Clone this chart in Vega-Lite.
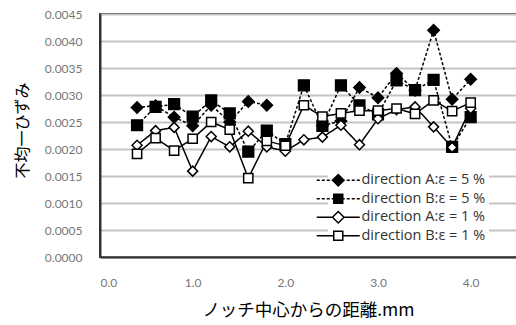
{
  "$schema": "https://vega.github.io/schema/vega-lite/v6.json",
  "width": 417,
  "height": 243,
  "autosize": {"type": "none"},
  "padding": {"left": 100, "top": 14, "right": 0, "bottom": 68},
  "background": "white",
  "config": {
    "view": {"stroke": "#333333", "strokeWidth": 2},
    "font": "Lato"
  },
  "datasets": {
    "pts": [
      {"x": 0.4, "s": "direction A:ε = 5 %", "v": 0.00277},
      {"x": 0.6, "s": "direction A:ε = 5 %", "v": 0.00280},
      {"x": 0.8, "s": "direction A:ε = 5 %", "v": 0.00259},
      {"x": 1.0, "s": "direction A:ε = 5 %", "v": 0.00243},
      {"x": 1.2, "s": "direction A:ε = 5 %", "v": 0.00281},
      {"x": 1.4, "s": "direction A:ε = 5 %", "v": 0.00250},
      {"x": 1.6, "s": "direction A:ε = 5 %", "v": 0.00288},
      {"x": 1.8, "s": "direction A:ε = 5 %", "v": 0.00281},
      {"x": 2.0, "s": "direction A:ε = 5 %", "v": null},
      {"x": 2.2, "s": "direction A:ε = 5 %", "v": null},
      {"x": 2.4, "s": "direction A:ε = 5 %", "v": 0.00243},
      {"x": 2.6, "s": "direction A:ε = 5 %", "v": 0.00252},
      {"x": 2.8, "s": "direction A:ε = 5 %", "v": 0.00314},
      {"x": 3.0, "s": "direction A:ε = 5 %", "v": 0.00295},
      {"x": 3.2, "s": "direction A:ε = 5 %", "v": 0.00340},
      {"x": 3.4, "s": "direction A:ε = 5 %", "v": 0.00309},
      {"x": 3.6, "s": "direction A:ε = 5 %", "v": 0.00420},
      {"x": 3.8, "s": "direction A:ε = 5 %", "v": 0.00292},
      {"x": 4.0, "s": "direction A:ε = 5 %", "v": 0.00329},

      {"x": 0.4, "s": "direction B:ε = 5 %", "v": 0.00244},
      {"x": 0.6, "s": "direction B:ε = 5 %", "v": 0.00278},
      {"x": 0.8, "s": "direction B:ε = 5 %", "v": 0.00283},
      {"x": 1.0, "s": "direction B:ε = 5 %", "v": 0.00260},
      {"x": 1.2, "s": "direction B:ε = 5 %", "v": 0.00290},
      {"x": 1.4, "s": "direction B:ε = 5 %", "v": 0.00266},
      {"x": 1.6, "s": "direction B:ε = 5 %", "v": 0.00195},
      {"x": 1.8, "s": "direction B:ε = 5 %", "v": 0.00234},
      {"x": 2.0, "s": "direction B:ε = 5 %", "v": 0.00209},
      {"x": 2.2, "s": "direction B:ε = 5 %", "v": 0.00318},
      {"x": 2.4, "s": "direction B:ε = 5 %", "v": 0.00243},
      {"x": 2.6, "s": "direction B:ε = 5 %", "v": 0.00318},
      {"x": 2.8, "s": "direction B:ε = 5 %", "v": 0.00281},
      {"x": 3.0, "s": "direction B:ε = 5 %", "v": 0.00264},
      {"x": 3.2, "s": "direction B:ε = 5 %", "v": 0.00327},
      {"x": 3.4, "s": "direction B:ε = 5 %", "v": 0.00309},
      {"x": 3.6, "s": "direction B:ε = 5 %", "v": 0.00328},
      {"x": 3.8, "s": "direction B:ε = 5 %", "v": 0.00204},
      {"x": 4.0, "s": "direction B:ε = 5 %", "v": 0.00259},

      {"x": 0.4, "s": "direction A:ε = 1 %", "v": 0.00207},
      {"x": 0.6, "s": "direction A:ε = 1 %", "v": 0.00234},
      {"x": 0.8, "s": "direction A:ε = 1 %", "v": 0.00240},
      {"x": 1.0, "s": "direction A:ε = 1 %", "v": 0.00159},
      {"x": 1.2, "s": "direction A:ε = 1 %", "v": 0.00223},
      {"x": 1.4, "s": "direction A:ε = 1 %", "v": 0.00204},
      {"x": 1.6, "s": "direction A:ε = 1 %", "v": 0.00233},
      {"x": 1.8, "s": "direction A:ε = 1 %", "v": 0.00204},
      {"x": 2.0, "s": "direction A:ε = 1 %", "v": 0.00196},
      {"x": 2.2, "s": "direction A:ε = 1 %", "v": 0.00217},
      {"x": 2.4, "s": "direction A:ε = 1 %", "v": 0.00222},
      {"x": 2.6, "s": "direction A:ε = 1 %", "v": 0.00244},
      {"x": 2.8, "s": "direction A:ε = 1 %", "v": 0.00208},
      {"x": 3.0, "s": "direction A:ε = 1 %", "v": 0.00256},
      {"x": 3.2, "s": "direction A:ε = 1 %", "v": 0.00273},
      {"x": 3.4, "s": "direction A:ε = 1 %", "v": 0.00278},
      {"x": 3.6, "s": "direction A:ε = 1 %", "v": 0.00241},
      {"x": 3.8, "s": "direction A:ε = 1 %", "v": 0.00203},
      {"x": 4.0, "s": "direction A:ε = 1 %", "v": 0.00275},

      {"x": 0.4, "s": "direction B:ε = 1 %", "v": 0.00191},
      {"x": 0.6, "s": "direction B:ε = 1 %", "v": 0.00220},
      {"x": 0.8, "s": "direction B:ε = 1 %", "v": 0.00197},
      {"x": 1.0, "s": "direction B:ε = 1 %", "v": 0.00219},
      {"x": 1.2, "s": "direction B:ε = 1 %", "v": 0.00250},
      {"x": 1.4, "s": "direction B:ε = 1 %", "v": 0.00236},
      {"x": 1.6, "s": "direction B:ε = 1 %", "v": 0.00146},
      {"x": 1.8, "s": "direction B:ε = 1 %", "v": 0.00215},
      {"x": 2.0, "s": "direction B:ε = 1 %", "v": 0.00206},
      {"x": 2.2, "s": "direction B:ε = 1 %", "v": 0.00281},
      {"x": 2.4, "s": "direction B:ε = 1 %", "v": 0.00260},
      {"x": 2.6, "s": "direction B:ε = 1 %", "v": 0.00266},
      {"x": 2.8, "s": "direction B:ε = 1 %", "v": 0.00271},
      {"x": 3.0, "s": "direction B:ε = 1 %", "v": 0.00271},
      {"x": 3.2, "s": "direction B:ε = 1 %", "v": 0.00275},
      {"x": 3.4, "s": "direction B:ε = 1 %", "v": 0.00265},
      {"x": 3.6, "s": "direction B:ε = 1 %", "v": 0.00290},
      {"x": 3.8, "s": "direction B:ε = 1 %", "v": 0.00270},
      {"x": 4.0, "s": "direction B:ε = 1 %", "v": 0.00286}
    ]
  },
  "data": {"name": "pts"},
  "encoding": {
    "x": {
      "field": "x", "type": "quantitative",
      "scale": {"domain": [0, 4.5], "nice": false, "zero": false},
      "axis": {
        "values": [0, 1, 2, 3, 4], "format": ".1f", "grid": false,
        "ticks": false, "labelPadding": 20, "labelBaseline": "top",
        "labelFont": "Lato", "labelFontSize": 12, "labelColor": "#777777",
        "domainColor": "#333333", "domainWidth": 2,
        "title": "ノッチ中心からの距離.mm",
        "titleFont": "Noto Sans CJK JP", "titleFontSize": 17.5, "titleFontWeight": "normal",
        "titleColor": "#000000", "titleX": 208, "titleY": 53,
        "titleAlign": "center", "titleBaseline": "middle"
      }
    },
    "y": {
      "field": "v", "type": "quantitative",
      "scale": {"domain": [0, 0.0045], "nice": false},
      "axis": {
        "values": [0, 0.0005, 0.001, 0.0015, 0.002, 0.0025, 0.003, 0.0035, 0.004, 0.0045],
        "format": ".4f", "ticks": false, "labelPadding": 18,
        "labelFont": "Lato", "labelFontSize": 12, "labelColor": "#777777",
        "grid": true, "gridColor": "#c4c4c4", "gridWidth": 2,
        "domainColor": "#333333", "domainWidth": 2,
        "title": "不均一ひずみ",
        "titleFont": "Noto Sans CJK JP", "titleFontSize": 16, "titleFontWeight": "normal",
        "titleColor": "#000000", "titleX": -78, "titleY": 116, "titleAngle": 270,
        "titleAlign": "center", "titleBaseline": "middle"
      }
    }
  },
  "layer": [
    {
      "mark": {"type": "line", "color": "black", "strokeWidth": 1.5, "invalid": "break-paths-show-domains"},
      "encoding": {
        "detail": {"field": "s"},
        "strokeDash": {
          "field": "s", "type": "nominal",
          "scale": {
            "domain": ["direction A:ε = 5 %", "direction B:ε = 5 %", "direction A:ε = 1 %", "direction B:ε = 1 %"],
            "range": [[3, 2], [3, 2], [1, 0], [1, 0]]
          },
          "legend": null
        }
      }
    },
    {
      "mark": {"type": "point", "filled": true, "stroke": "black", "strokeWidth": 1.5, "opacity": 1},
      "encoding": {
        "shape": {
          "field": "s", "type": "nominal",
          "scale": {
            "domain": ["direction A:ε = 5 %", "direction B:ε = 5 %", "direction A:ε = 1 %", "direction B:ε = 1 %"],
            "range": ["diamond", "square", "diamond", "square"]
          },
          "legend": null
        },
        "fill": {
          "field": "s", "type": "nominal",
          "scale": {
            "domain": ["direction A:ε = 5 %", "direction B:ε = 5 %", "direction A:ε = 1 %", "direction B:ε = 1 %"],
            "range": ["black", "black", "white", "white"]
          },
          "legend": null
        },
        "size": {
          "field": "s", "type": "nominal",
          "scale": {
            "domain": ["direction A:ε = 5 %", "direction B:ε = 5 %", "direction A:ε = 1 %", "direction B:ε = 1 %"],
            "range": [130, 85, 130, 95]
          },
          "legend": null
        }
      }
    },
    {
      "mark": {"type": "point", "filled": true, "stroke": "black", "strokeWidth": 1.5, "opacity": 0},
      "encoding": {
        "shape": {
          "field": "s", "type": "nominal",
          "scale": {
            "domain": ["direction A:ε = 5 %", "direction B:ε = 5 %", "direction A:ε = 1 %", "direction B:ε = 1 %"],
            "range": [
              "M-4.3,0H-3.7M-3.3,0H-2.7M-2.3,0H-1.7M-1.3,0H-1.1M1.1,0H1.3M1.7,0H2.3M2.7,0H3.3M3.7,0H4.3M0,-1.15L1.15,0L0,1.15L-1.15,0Z",
              "M-4.3,0H-3.7M-3.3,0H-2.7M-2.3,0H-1.7M-1.3,0H-0.9M0.9,0H1.3M1.7,0H2.3M2.7,0H3.3M3.7,0H4.3M-0.9,-0.9H0.9V0.9H-0.9Z",
              "M-4.3,0H-1.1M1.1,0H4.3M0,-1.15L1.15,0L0,1.15L-1.15,0Z",
              "M-4.3,0H-0.9M0.9,0H4.3M-0.9,-0.9H0.9V0.9H-0.9Z"
            ]
          },
          "legend": {
            "title": null, "orient": "none", "legendX": 228, "legendY": 156,
            "symbolSize": 100, "symbolStrokeWidth": 1.5, "symbolStrokeColor": "black",
            "symbolOpacity": 1, "labelOffset": 16,
            "labelFont": "Open Sans", "labelFontSize": 14.5, "labelColor": "#333333",
            "rowPadding": 1.5, "fillColor": "white", "padding": 3,
            "encode": {"symbols": {"update": {"stroke": {"value": "black"}, "strokeWidth": {"value": 1.5}, "opacity": {"value": 1}}}}
          }
        },
        "fill": {
          "field": "s", "type": "nominal",
          "scale": {
            "domain": ["direction A:ε = 5 %", "direction B:ε = 5 %", "direction A:ε = 1 %", "direction B:ε = 1 %"],
            "range": ["black", "black", "white", "white"]
          },
          "legend": {
            "title": null, "orient": "none", "legendX": 228, "legendY": 156,
            "symbolSize": 100, "symbolStrokeWidth": 1.5, "symbolStrokeColor": "black",
            "symbolOpacity": 1, "labelOffset": 16,
            "labelFont": "Open Sans", "labelFontSize": 14.5, "labelColor": "#333333",
            "rowPadding": 1.5, "fillColor": "white", "padding": 3,
            "encode": {"symbols": {"update": {"stroke": {"value": "black"}, "strokeWidth": {"value": 1.5}, "opacity": {"value": 1}}}}
          }
        }
      }
    }
  ],
  "resolve": {"scale": {"shape": "independent", "fill": "independent", "size": "independent"}}
}
